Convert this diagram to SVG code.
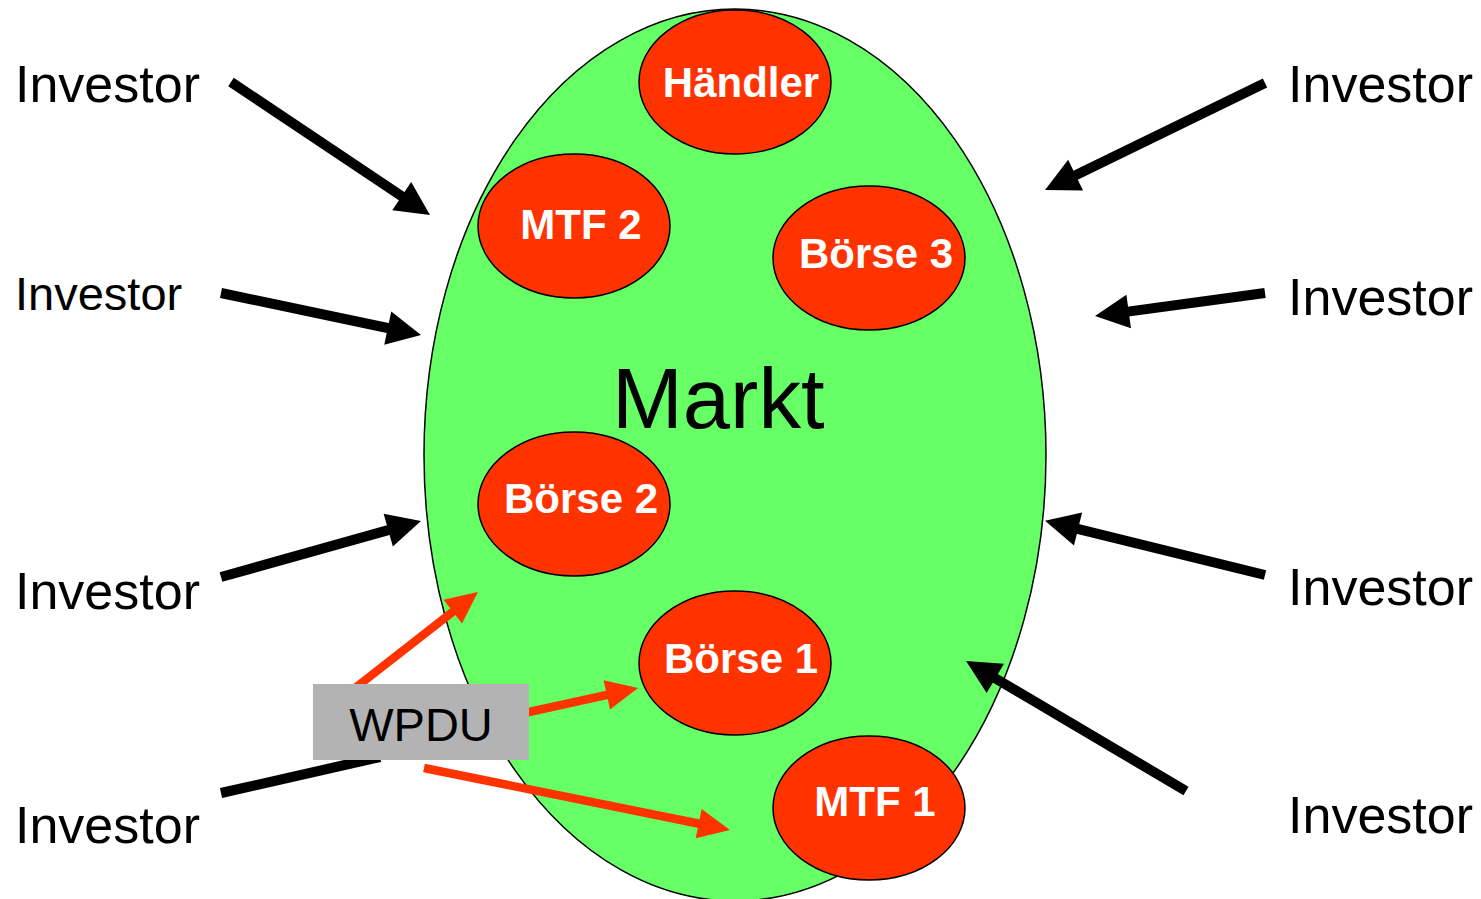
<svg xmlns="http://www.w3.org/2000/svg" width="1481" height="899" viewBox="0 0 1481 899">
<style>
.inv{font-family:"Liberation Sans",Arial,sans-serif;font-size:52px;fill:#000}
.node ellipse{fill:#FF3300;stroke:#000;stroke-width:1.5}
.node text{font-family:"Liberation Sans",Arial,sans-serif;font-weight:bold;font-size:42px;fill:#fff;text-anchor:middle}
.blk{stroke:#000;stroke-width:10;fill:none;marker-end:url(#ah)}
.red{stroke:#FF3300;stroke-width:8.5;fill:none;marker-end:url(#ahr)}
</style>
<defs>
<marker id="ah" markerUnits="userSpaceOnUse" markerWidth="34" markerHeight="34" refX="12" refY="17" orient="auto" overflow="visible">
<path d="M0,0 L34,17 L0,34 z" fill="#000"/>
</marker>
<marker id="ahr" markerUnits="userSpaceOnUse" markerWidth="32" markerHeight="30" refX="12" refY="15" orient="auto" overflow="visible">
<path d="M0,0 L32,15 L0,30 z" fill="#FF3300"/>
</marker>
</defs>
<rect width="1481" height="899" fill="#fff"/>
<g id="markt">
<ellipse cx="735" cy="455" rx="311" ry="446" fill="#66FF66" stroke="#000" stroke-width="1.5"/>
<text x="612" y="428" font-family="Liberation Sans, Arial, sans-serif" font-size="85" fill="#000">Markt</text>
</g>
<g id="haendler" class="node"><ellipse cx="735" cy="82" rx="96" ry="72"/><text x="741" y="97">Händler</text></g>
<g id="mtf2" class="node"><ellipse cx="574" cy="226" rx="96" ry="72"/><text x="581" y="239">MTF 2</text></g>
<g id="boerse3" class="node"><ellipse cx="869" cy="258" rx="96" ry="72"/><text x="876" y="268">Börse 3</text></g>
<g id="boerse2" class="node"><ellipse cx="574" cy="504" rx="96" ry="72"/><text x="581" y="513">Börse 2</text></g>
<g id="boerse1" class="node"><ellipse cx="735" cy="663" rx="96" ry="72"/><text x="741" y="673">Börse 1</text></g>
<g id="mtf1" class="node"><ellipse cx="869" cy="808" rx="96" ry="72"/><text x="875" y="816">MTF 1</text></g>
<g id="investors">
<text id="inv-l1" class="inv" x="15" y="102">Investor</text>
<text id="inv-l2" class="inv" x="15" y="310" style="font-size:47px">Investor</text>
<text id="inv-l3" class="inv" x="15" y="609">Investor</text>
<text id="inv-l4" class="inv" x="15" y="843">Investor</text>
<text id="inv-r1" class="inv" x="1473" y="102" text-anchor="end">Investor</text>
<text id="inv-r2" class="inv" x="1473" y="315" text-anchor="end">Investor</text>
<text id="inv-r3" class="inv" x="1473" y="605" text-anchor="end">Investor</text>
<text id="inv-r4" class="inv" x="1473" y="833" text-anchor="end">Investor</text>
</g>
<g id="connectors">
<line class="blk" x1="231" y1="82" x2="411.7" y2="202.8"/>
<line class="blk" x1="221" y1="293" x2="399.5" y2="330.5"/>
<line class="blk" x1="221" y1="577" x2="399.8" y2="526.9"/>
<line x1="221" y1="793" x2="380" y2="757" stroke="#000" stroke-width="10"/>
<line class="blk" x1="1265" y1="83" x2="1064.8" y2="180.4"/>
<line class="blk" x1="1265" y1="293" x2="1116.8" y2="313.1"/>
<line class="blk" x1="1265" y1="575" x2="1066.4" y2="526.1"/>
<line class="blk" x1="1186" y1="791" x2="985" y2="672.2"/>
<line class="red" x1="350" y1="692" x2="462.2" y2="604.3"/>
<line class="red" x1="520" y1="714" x2="618.5" y2="692.3"/>
<line class="red" x1="424" y1="768" x2="710.4" y2="826"/>
</g>
<g id="wpdu">
<rect x="313" y="684" width="216" height="76" fill="#B3B3B3"/>
<text x="421" y="741" font-family="Liberation Sans, Arial, sans-serif" font-size="47" fill="#000" text-anchor="middle">WPDU</text>
</g>
</svg>
